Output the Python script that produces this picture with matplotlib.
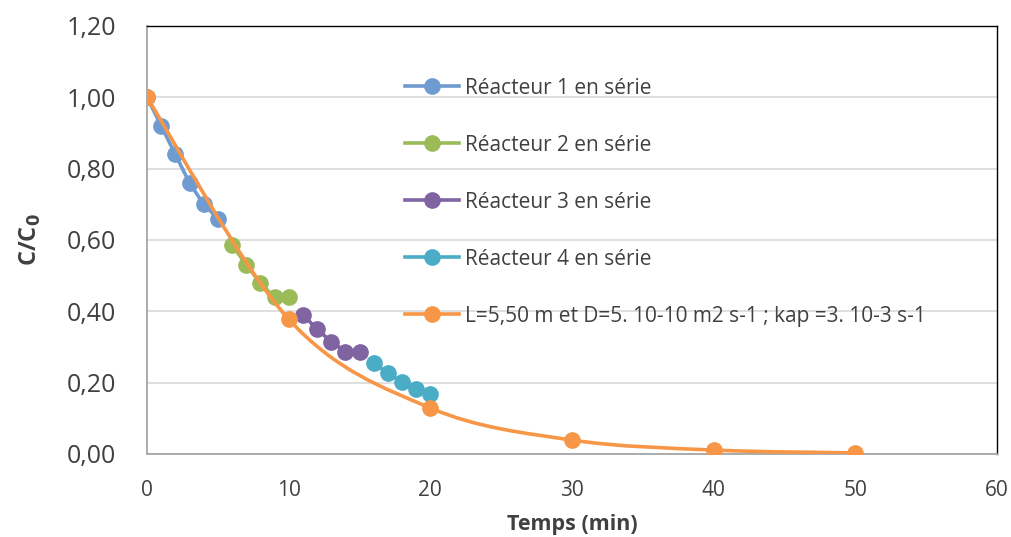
import matplotlib.pyplot as plt
from matplotlib.path import Path
from matplotlib.patches import PathPatch
from matplotlib.lines import Line2D

plt.rcParams['font.family'] = ['Open Sans', 'DejaVu Sans']

# data
t_r1 = [0, 1, 2, 3, 4, 5]
c_r1 = [1.00, 0.92, 0.84, 0.76, 0.70, 0.66]
t_r2 = [6, 7, 8, 9, 10]
c_r2 = [0.587, 0.53, 0.48, 0.439, 0.439]
t_r3 = [11, 12, 13, 14, 15]
c_r3 = [0.391, 0.35, 0.315, 0.287, 0.287]
t_r4 = [16, 17, 18, 19, 20]
c_r4 = [0.256, 0.226, 0.203, 0.181, 0.168]
t_mod = [0, 10, 20, 30, 40, 50]
c_mod = [1.00, 0.378, 0.129, 0.039, 0.011, 0.003]

labels = ['Réacteur 1 en série', 'Réacteur 2 en série', 'Réacteur 3 en série',
          'Réacteur 4 en série',
          'L=5,50 m et D=5. 10-10 m2 s-1 ; kap =3. 10-3 s-1']
colors = ['#6F9BD1', '#9BBB59', '#8064A2', '#4BACC6', '#F79646']
yticks = [0.0, 0.2, 0.4, 0.6, 0.8, 1.0, 1.2]
xticks = [0, 10, 20, 30, 40, 50, 60]


def smooth_path(xs, ys):
    # Excel-style smoothed line: cubic Bezier segments (Catmull-Rom, 1/6)
    n = len(xs)
    verts = [(xs[0], ys[0])]
    codes = [Path.MOVETO]
    for i in range(n - 1):
        x0, y0 = (xs[i - 1], ys[i - 1]) if i > 0 else (xs[i], ys[i])
        x1, y1 = xs[i], ys[i]
        x2, y2 = xs[i + 1], ys[i + 1]
        x3, y3 = (xs[i + 2], ys[i + 2]) if i + 2 < n else (x2, y2)
        verts += [(x1 + (x2 - x0) / 6, y1 + (y2 - y0) / 6),
                  (x2 - (x3 - x1) / 6, y2 - (y3 - y1) / 6),
                  (x2, y2)]
        codes += [Path.CURVE4] * 3
    return Path(verts, codes)


fig = plt.figure(figsize=(10.11, 5.37), dpi=100)
ax = fig.add_axes([0.1454, 0.1546, 0.8408, 0.797])

lw = 2.6
ms = 11
series = [(t_r1, c_r1), (t_r2, c_r2), (t_r3, c_r3), (t_r4, c_r4)]
for (t, c), col in zip(series, colors[:4]):
    ax.plot(t, c, color=col, lw=lw, marker='o', ms=ms, zorder=3)

ax.add_patch(PathPatch(smooth_path(t_mod, c_mod), facecolor='none',
                       edgecolor=colors[4], lw=lw, zorder=4))
ax.plot(t_mod, c_mod, ls='none', marker='o', ms=ms, color=colors[4], zorder=5)

handles = [Line2D([], [], color=col, lw=lw, marker='o', ms=ms) for col in colors]
leg = ax.legend(handles, labels, loc='upper left', bbox_to_anchor=(0.392, 0.871),
                bbox_transform=fig.transFigure, frameon=False, fontsize=15,
                labelspacing=1.73, handlelength=2.6, handletextpad=0.3,
                borderaxespad=0)
for txt in leg.get_texts():
    txt.set_color('#404040')

ax.set_xlim(0, 60)
ax.set_ylim(0, 1.2)
ax.set_xticks(xticks)
ax.set_yticks(yticks)
ax.set_yticklabels([f'{v:.2f}'.replace('.', ',') for v in yticks])
ax.tick_params(axis='y', labelsize=18, length=0, pad=22, labelcolor='#404040')
ax.tick_params(axis='x', labelsize=15, length=0, pad=19, labelcolor='#404040')
ax.grid(axis='y', color='#D9D9D9', lw=1.2)
ax.set_axisbelow(True)
for s in ['top', 'right']:
    ax.spines[s].set_color('black')
    ax.spines[s].set_linewidth(1.0)
for s in ['left', 'bottom']:
    ax.spines[s].set_color('#A6A6A6')
    ax.spines[s].set_linewidth(1.3)

ax.set_xlabel('Temps (min)', fontsize=15.5, fontweight='bold', color='#404040', labelpad=9)
ax.set_ylabel('C/C$_\\mathbf{0}$', fontsize=17, fontweight='bold', color='#404040', labelpad=17)

fig.savefig('out.png', dpi=100)
